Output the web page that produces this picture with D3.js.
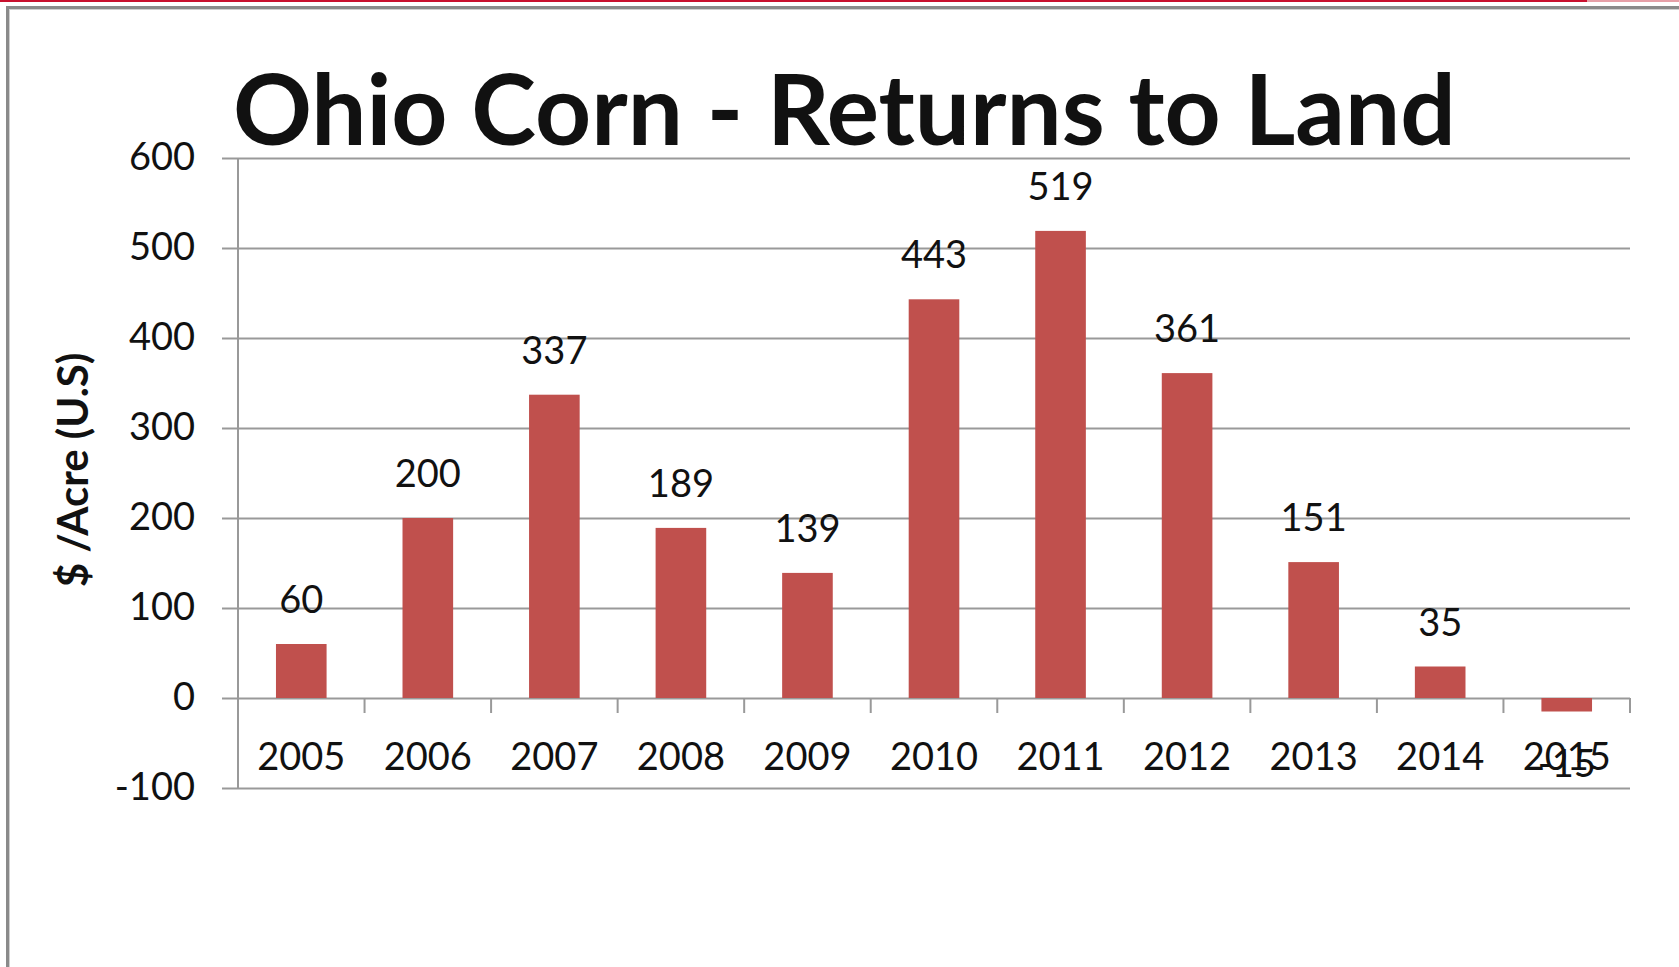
<!DOCTYPE html>
<html>
<head>
<meta charset="utf-8">
<script src="https://cdn.jsdelivr.net/npm/d3@7"></script>
<style>
  html, body { margin: 0; padding: 0; background: #fff; }
  svg { display: block; }
  text { font-family: Lato, "Open Sans", sans-serif; fill: #111; }
</style>
</head>
<body>
<svg id="chart" width="1679" height="967"></svg>
<script>
const years = ["2005","2006","2007","2008","2009","2010","2011","2012","2013","2014","2015"];
const returns = [60, 200, 337, 189, 139, 443, 519, 361, 151, 35, -15];
const yTicks = [-100, 0, 100, 200, 300, 400, 500, 600];
const titleText = "Ohio Corn - Returns to Land";
const yTitleText = "$ /Acre (U.S)";

const W = 1679, H = 967;
const plot = { left: 238, right: 1630, top: 158, bottom: 788 };

const svg = d3.select("#chart");

// frame decorations
svg.append("rect").attr("x", 0).attr("y", 0).attr("width", 1587).attr("height", 2).attr("fill", "#c8102e");
svg.append("rect").attr("x", 1587).attr("y", 0).attr("width", W - 1587).attr("height", 2).attr("fill", "#e6a0a8");
svg.append("rect").attr("x", 6).attr("y", 6).attr("width", W - 6).attr("height", 3).attr("fill", "#8a8a8a");
svg.append("rect").attr("x", 6).attr("y", 6).attr("width", 3).attr("height", H - 6).attr("fill", "#8a8a8a");
svg.append("rect").attr("x", 9).attr("y", 9).attr("width", W - 9).attr("height", 1).attr("fill", "#cfcfcf");
svg.append("rect").attr("x", 9).attr("y", 9).attr("width", 1).attr("height", H - 9).attr("fill", "#cfcfcf");

const y = d3.scaleLinear().domain([-100, 600]).range([plot.bottom, plot.top]);
const x = d3.scaleBand().domain(years).range([plot.left, plot.right]).paddingInner(0.6).paddingOuter(0.3);

// gridlines + tick labels
const yAxis = d3.axisLeft(y).tickValues(yTicks).tickFormat(d => String(d))
  .tickSize(-(plot.right - 222)).tickPadding(27);
const gy = svg.append("g").attr("transform", `translate(222,0)`).call(yAxis);
gy.select(".domain").remove();
gy.selectAll(".tick line").attr("stroke", "#999").attr("stroke-width", 2);
gy.selectAll(".tick text").attr("font-size", 38).attr("font-family", "Lato").attr("fill", "#111").attr("dy", "0.3em");

// y axis line
svg.append("line").attr("x1", plot.left).attr("x2", plot.left).attr("y1", plot.top).attr("y2", plot.bottom)
  .attr("stroke", "#999").attr("stroke-width", 2);

// bars
const step = x.step();
svg.append("g").selectAll("rect").data(years).join("rect")
  .attr("x", d => x(d))
  .attr("width", x.bandwidth())
  .attr("y", (d, i) => y(Math.max(0, returns[i])))
  .attr("height", (d, i) => Math.abs(y(returns[i]) - y(0)))
  .attr("fill", "#c0504d");

// x-axis category boundary ticks
const bounds = years.map((d, i) => x(d) + x.bandwidth() / 2 + step / 2);
svg.append("g").selectAll("line").data(bounds).join("line")
  .attr("x1", d => d).attr("x2", d => d)
  .attr("y1", y(0)).attr("y2", y(0) + 15)
  .attr("stroke", "#999").attr("stroke-width", 2);

// category labels
svg.append("g").selectAll("text").data(years).join("text")
  .attr("x", d => x(d) + x.bandwidth() / 2)
  .attr("y", 770)
  .attr("text-anchor", "middle")
  .attr("font-size", 38)
  .text(d => d);

// data labels
svg.append("g").selectAll("text").data(years).join("text")
  .attr("x", d => x(d) + x.bandwidth() / 2)
  .attr("y", (d, i) => returns[i] >= 0 ? y(returns[i]) - 31 : y(returns[i]) + 65)
  .attr("text-anchor", "middle")
  .attr("font-size", 38)
  .text((d, i) => String(returns[i]));

// title
const title = svg.append("text")
  .attr("x", 233).attr("y", 145)
  .attr("font-weight", "bold")
  .attr("font-size", 96)
  .attr("fill", "#000")
  .text(titleText);
const tw = title.node().getComputedTextLength();
title.attr("font-size", 96 * 1223 / tw);

// y title
svg.append("text")
  .attr("transform", "translate(88,470) rotate(-90)")
  .attr("text-anchor", "middle")
  .attr("font-weight", "bold")
  .attr("font-size", 42)
  .attr("fill", "#000")
  .text(yTitleText);
</script>
</body>
</html>
